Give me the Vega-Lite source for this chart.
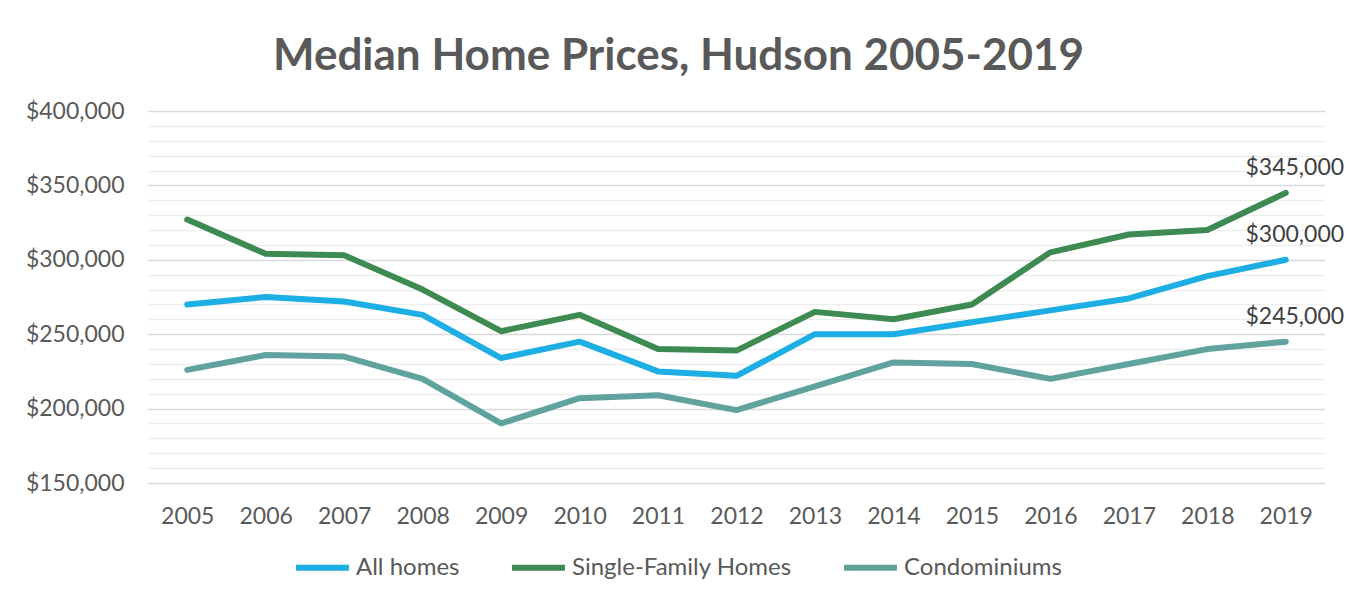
{
  "$schema": "https://vega.github.io/schema/vega-lite/v6.json",
  "autosize": "none",
  "width": 1177,
  "height": 372,
  "padding": {"left": 148, "top": 111, "right": 29, "bottom": 120},
  "background": "white",
  "config": {
    "font": "Lato",
    "view": {"stroke": null}
  },
  "title": {
    "text": "Median Home Prices, Hudson 2005-2019",
    "fontSize": 44,
    "fontWeight": "bold",
    "color": "#595959",
    "font": "Lato",
    "anchor": "middle",
    "offset": 21,
    "dx": -58
  },
  "data": {
    "values": [
      {"year": "2005", "series": "All homes", "price": 270000},
      {"year": "2006", "series": "All homes", "price": 275000},
      {"year": "2007", "series": "All homes", "price": 272000},
      {"year": "2008", "series": "All homes", "price": 263000},
      {"year": "2009", "series": "All homes", "price": 234000},
      {"year": "2010", "series": "All homes", "price": 245000},
      {"year": "2011", "series": "All homes", "price": 225000},
      {"year": "2012", "series": "All homes", "price": 222000},
      {"year": "2013", "series": "All homes", "price": 250000},
      {"year": "2014", "series": "All homes", "price": 250000},
      {"year": "2015", "series": "All homes", "price": 258000},
      {"year": "2016", "series": "All homes", "price": 266000},
      {"year": "2017", "series": "All homes", "price": 274000},
      {"year": "2018", "series": "All homes", "price": 289000},
      {"year": "2019", "series": "All homes", "price": 300000},
      {"year": "2005", "series": "Single-Family Homes", "price": 327000},
      {"year": "2006", "series": "Single-Family Homes", "price": 304000},
      {"year": "2007", "series": "Single-Family Homes", "price": 303000},
      {"year": "2008", "series": "Single-Family Homes", "price": 280000},
      {"year": "2009", "series": "Single-Family Homes", "price": 252000},
      {"year": "2010", "series": "Single-Family Homes", "price": 263000},
      {"year": "2011", "series": "Single-Family Homes", "price": 240000},
      {"year": "2012", "series": "Single-Family Homes", "price": 239000},
      {"year": "2013", "series": "Single-Family Homes", "price": 265000},
      {"year": "2014", "series": "Single-Family Homes", "price": 260000},
      {"year": "2015", "series": "Single-Family Homes", "price": 270000},
      {"year": "2016", "series": "Single-Family Homes", "price": 305000},
      {"year": "2017", "series": "Single-Family Homes", "price": 317000},
      {"year": "2018", "series": "Single-Family Homes", "price": 320000},
      {"year": "2019", "series": "Single-Family Homes", "price": 345000},
      {"year": "2005", "series": "Condominiums", "price": 226000},
      {"year": "2006", "series": "Condominiums", "price": 236000},
      {"year": "2007", "series": "Condominiums", "price": 235000},
      {"year": "2008", "series": "Condominiums", "price": 220000},
      {"year": "2009", "series": "Condominiums", "price": 190000},
      {"year": "2010", "series": "Condominiums", "price": 207000},
      {"year": "2011", "series": "Condominiums", "price": 209000},
      {"year": "2012", "series": "Condominiums", "price": 199000},
      {"year": "2013", "series": "Condominiums", "price": 215000},
      {"year": "2014", "series": "Condominiums", "price": 231000},
      {"year": "2015", "series": "Condominiums", "price": 230000},
      {"year": "2016", "series": "Condominiums", "price": 220000},
      {"year": "2017", "series": "Condominiums", "price": 230000},
      {"year": "2018", "series": "Condominiums", "price": 240000},
      {"year": "2019", "series": "Condominiums", "price": 245000}
    ]
  },
  "encoding": {
    "x": {
      "field": "year",
      "type": "ordinal",
      "scale": {"type": "point", "padding": 0.5},
      "axis": {
        "title": null,
        "labelAngle": 0,
        "labelFontSize": 23,
        "labelColor": "#595959",
        "labelPadding": 22,
        "ticks": false,
        "domain": false,
        "grid": false
      }
    },
    "y": {
      "field": "price",
      "type": "quantitative",
      "scale": {"domain": [150000, 400000], "nice": false, "zero": false},
      "axis": {
        "title": null,
        "values": [150000, 160000, 170000, 180000, 190000, 200000, 210000, 220000, 230000, 240000, 250000, 260000, 270000, 280000, 290000, 300000, 310000, 320000, 330000, 340000, 350000, 360000, 370000, 380000, 390000, 400000],
        "labelExpr": "datum.value % 50000 === 0 ? format(datum.value, '$,.0f') : ''",
        "labelFontSize": 23,
        "labelColor": "#595959",
        "labelPadding": 24,
        "ticks": false,
        "domain": false,
        "grid": true,
        "gridColor": {"condition": {"test": "datum.value % 50000 === 0", "value": "#d9d9d9"}, "value": "#eeeeee"},
        "gridWidth": 1.5
      }
    },
    "color": {
      "field": "series",
      "type": "nominal",
      "scale": {
        "domain": ["All homes", "Single-Family Homes", "Condominiums"],
        "range": ["#1daee4", "#3d8a52", "#60a39e"]
      },
      "legend": {
        "title": null,
        "orient": "none",
        "legendX": 145,
        "legendY": 427,
        "direction": "horizontal",
        "symbolType": "stroke",
        "symbolSize": 2800,
        "symbolStrokeWidth": 6,
        "labelFontSize": 24,
        "labelColor": "#595959",
        "labelOffset": 4,
        "labelLimit": 500,
        "columnPadding": 40
      }
    }
  },
  "layer": [
    {
      "mark": {"type": "line", "strokeWidth": 6, "strokeCap": "round", "strokeJoin": "round"}
    },
    {
      "transform": [{"filter": "datum.year === '2019'"}],
      "mark": {"type": "text", "fontSize": 23, "dy": -25, "dx": 9, "align": "center"},
      "encoding": {
        "text": {"field": "price", "type": "quantitative", "format": "$,.0f"},
        "color": {"value": "#404040"}
      }
    }
  ]
}
